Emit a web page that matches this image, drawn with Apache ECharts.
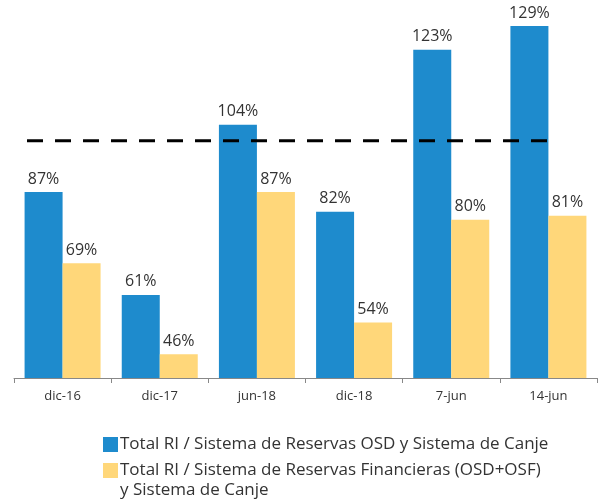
<!DOCTYPE html>
<html>
<head>
<meta charset="utf-8">
<script src="https://cdn.jsdelivr.net/npm/echarts@6/dist/echarts.min.js"></script>
<style>html,body{margin:0;padding:0;background:#fff}#c{width:603px;height:500px}</style>
</head>
<body>
<div id="c"></div>
<script>
var categories = ['dic-16', 'dic-17', 'jun-18', 'dic-18', '7-jun', '14-jun'];
var seriesNames = ['Total RI / Sistema de Reservas OSD y Sistema de Canje', 'Total RI / Sistema de Reservas Financieras (OSD+OSF) y Sistema de Canje'];
var legendWrapTail = 'y Sistema de Canje';
var blueValues = [87, 61, 104, 82, 123, 129];
var yellowValues = [69, 46, 87, 54, 80, 81];
var refLevel = 100;
var refSpan = [0.134, 5.49];

var chart = echarts.init(document.getElementById('c'));
var font = 'Open Sans, sans-serif';
function legendOf(i, top) {
  return {
    orient: 'vertical', left: 103, top: top, padding: 0,
    itemWidth: 15, itemHeight: 15, itemGap: 0,
    icon: 'rect',
    data: [seriesNames[i]],
    textStyle: { color: '#333', fontSize: 17, fontFamily: font, padding: [0, 0, 0, -3], lineHeight: 21 },
    formatter: function (n) { return i === 1 ? n.replace(' ' + legendWrapTail, '') : n; }
  };
}
chart.setOption({
  animation: false,
  textStyle: { fontFamily: font },
  grid: { left: 14, right: 6, top: 22, bottom: 122 },
  xAxis: [{
    type: 'category', data: categories,
    axisLine: { show: true, lineStyle: { color: '#888', width: 1 } },
    axisTick: { show: true, length: 5, lineStyle: { color: '#888' } },
    axisLabel: { color: '#333', fontSize: 13, margin: 12, fontFamily: font }
  }, {
    type: 'value', min: 0, max: 6, show: false
  }],
  yAxis: { type: 'value', min: 40, max: 130, show: false },
  legend: [legendOf(0, 434), legendOf(1, 460)],
  graphic: [{
    type: 'text', left: 120, top: 482,
    style: { text: legendWrapTail, fill: '#333', font: '17px Open Sans, sans-serif' }
  }],
  series: [{
    name: seriesNames[0], type: 'bar', data: blueValues,
    barWidth: 38, barGap: '0%',
    itemStyle: { color: '#1E8BCD' },
    label: { show: true, position: 'top', distance: 5, color: '#333', fontSize: 16, fontFamily: font, formatter: '{c}%' }
  }, {
    name: seriesNames[1], type: 'bar', data: yellowValues,
    barWidth: 38, barGap: '0%',
    itemStyle: { color: '#FFD77A' },
    label: { show: true, position: 'top', distance: 5, color: '#333', fontSize: 16, fontFamily: font, formatter: '{c}%' }
  }, {
    type: 'line', xAxisIndex: 1, symbol: 'none', silent: true,
    data: [[refSpan[0], refLevel], [refSpan[1], refLevel]],
    lineStyle: { color: '#000', width: 3, type: [16, 12] }
  }]
});
</script>
</body>
</html>
